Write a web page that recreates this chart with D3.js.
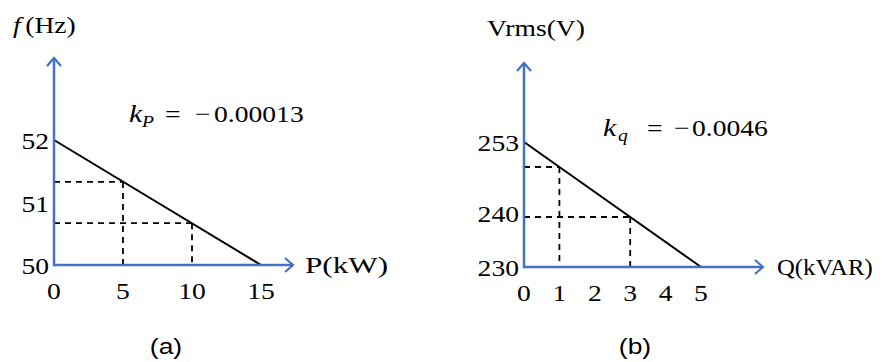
<!DOCTYPE html>
<html>
<head>
<meta charset="utf-8">
<script src="https://cdn.jsdelivr.net/npm/d3@7"></script>
<style>
  html, body { margin: 0; padding: 0; background: #fff; }
  svg { display: block; }
</style>
</head>
<body>
<svg id="chart" width="882" height="362"></svg>
<script>
// ---- Panel (a): frequency droop ----
const pTicks = [0, 5, 10, 15];
const fTicks = [50, 51, 52];
const droopP = [0, 15];          // kW
const droopF = [52, 50];         // Hz
const guideP = [5, 10];          // kW
const guideF = [51.33, 50.67];   // Hz

// ---- Panel (b): voltage droop ----
const qTicks = [0, 1, 2, 3, 4, 5];
const vTicks = [230, 240, 253];
const droopQ = [0, 5];           // kVAR
const droopV = [253, 230];       // V
const guideQ = [1, 3];           // kVAR
const guideV = [248.4, 239.2];   // V

const axisBlue = "#4472C4";
const serif = "'Liberation Serif', 'Times New Roman', serif";
const SX = 1.15;  // default horizontal stretch of the lettering

const svg = d3.select("#chart");

const defs = svg.append("defs");
defs.append("marker")
  .attr("id", "arrow")
  .attr("markerUnits", "userSpaceOnUse")
  .attr("viewBox", "-12 -10 14 20")
  .attr("refX", 0).attr("refY", 0)
  .attr("markerWidth", 14).attr("markerHeight", 20)
  .attr("orient", "auto")
  .append("path")
  .attr("d", "M-8,-7 L0,0 L-8,7")
  .attr("fill", "none")
  .attr("stroke", axisBlue)
  .attr("stroke-width", 2.2);

// text helper: position, then stretch horizontally about the anchor point
function label(g, x, y, txt, opts = {}) {
  const sx = opts.sx || SX;
  const t = g.append("text")
    .attr("transform", `translate(${x},${y}) scale(${sx},1)`)
    .attr("font-family", opts.family || serif)
    .attr("font-size", opts.size || 24)
    .attr("text-anchor", opts.anchor || "start")
    .attr("fill", "#000");
  if (opts.italic) t.attr("font-style", "italic");
  t.text(txt);
  return t;
}

// droop coefficient: k with subscript, "=", minus and value at given page x positions
function coef(g, y, sub, value, xs) {
  const base = xs[0];
  const t = label(g, base, y, "", {});
  const rel = px => (px - base) / SX;
  t.append("tspan").attr("x", 0).attr("font-style", "italic").attr("font-size", 26).text("k");
  t.append("tspan").attr("x", rel(xs[1])).attr("dy", 5)
    .attr("font-style", "italic").attr("font-size", 17).text(sub);
  t.append("tspan").attr("x", rel(xs[2])).attr("dy", -5).text("=");
  t.append("tspan").attr("x", rel(xs[3])).text("\u2212");
  t.append("tspan").attr("x", rel(xs[4])).text(value);
}

function panel(cfg) {
  const g = svg.append("g");
  const x = d3.scaleLinear().domain(cfg.xDomain).range(cfg.xRange);
  const y = d3.scaleLinear().domain(cfg.yDomain).range(cfg.yRange);
  const x0 = x(cfg.xDomain[0]), y0 = y(cfg.yDomain[0]);

  // dashed guides from the droop line to both axes
  cfg.guideX.forEach((gx, i) => {
    const gy = cfg.guideY[i];
    g.append("line")
      .attr("x1", x0).attr("y1", y(gy)).attr("x2", x(gx)).attr("y2", y(gy))
      .attr("stroke", "#000").attr("stroke-width", 1.8).attr("stroke-dasharray", "6,5");
    g.append("line")
      .attr("x1", x(gx)).attr("y1", y(gy)).attr("x2", x(gx)).attr("y2", y0)
      .attr("stroke", "#000").attr("stroke-width", 1.8).attr("stroke-dasharray", "6,5");
  });

  // droop line
  const line = d3.line().x(d => x(d[0])).y(d => y(d[1]));
  g.append("path")
    .datum(cfg.lineX.map((v, i) => [v, cfg.lineY[i]]))
    .attr("d", line)
    .attr("fill", "none").attr("stroke", "#000").attr("stroke-width", 2);

  // axes with open arrowheads
  g.append("line")
    .attr("x1", x0).attr("y1", y0).attr("x2", cfg.xArrow).attr("y2", y0)
    .attr("stroke", axisBlue).attr("stroke-width", 2.5).attr("marker-end", "url(#arrow)");
  g.append("line")
    .attr("x1", x0).attr("y1", y0 + 1.2).attr("x2", x0).attr("y2", cfg.yArrow)
    .attr("stroke", axisBlue).attr("stroke-width", 2.5).attr("marker-end", "url(#arrow)");

  // tick labels
  cfg.xTicks.forEach(t => label(g, x(t), y0 + 34, String(t), { anchor: "middle" }));
  cfg.yTicks.forEach(t => label(g, x0 - 5, y(t) + 9, String(t), { anchor: "end" }));

  // axis titles
  cfg.titles(g);

  // caption
  label(g, cfg.captionX, 354, cfg.caption,
    { anchor: "middle", family: "'Liberation Sans', Arial, sans-serif", size: 22, sx: 1.2 });
}

panel({
  xDomain: [0, 15], xRange: [54, 261],
  yDomain: [50, 52], yRange: [265, 140],
  xArrow: 293, yArrow: 58,
  xTicks: pTicks, yTicks: fTicks,
  lineX: droopP, lineY: droopF,
  guideX: guideP, guideY: guideF,
  caption: "(a)", captionX: 166,
  titles: g => {
    const t = label(g, 13, 33, "", {});
    t.append("tspan").attr("font-style", "italic").text("f");
    t.append("tspan").attr("dx", 4).text("(Hz)");
    label(g, 305, 273, "P(kW)", { sx: 1.3 });
    coef(g, 122, "P", "0.00013", [129, 142, 165, 195, 214]);
  }
});

panel({
  xDomain: [0, 5], xRange: [524, 701],
  yDomain: [230, 253], yRange: [267, 142],
  xArrow: 763, yArrow: 63,
  xTicks: qTicks, yTicks: vTicks,
  lineX: droopQ, lineY: droopV,
  guideX: guideQ, guideY: guideV,
  caption: "(b)", captionX: 635,
  titles: g => {
    label(g, 487, 36, "Vrms(V)", {});
    label(g, 777, 275, "Q(kVAR)", { sx: 1.03 });
    coef(g, 136, "q", "0.0046", [603, 618, 647, 674, 692]);
  }
});
</script>
</body>
</html>
